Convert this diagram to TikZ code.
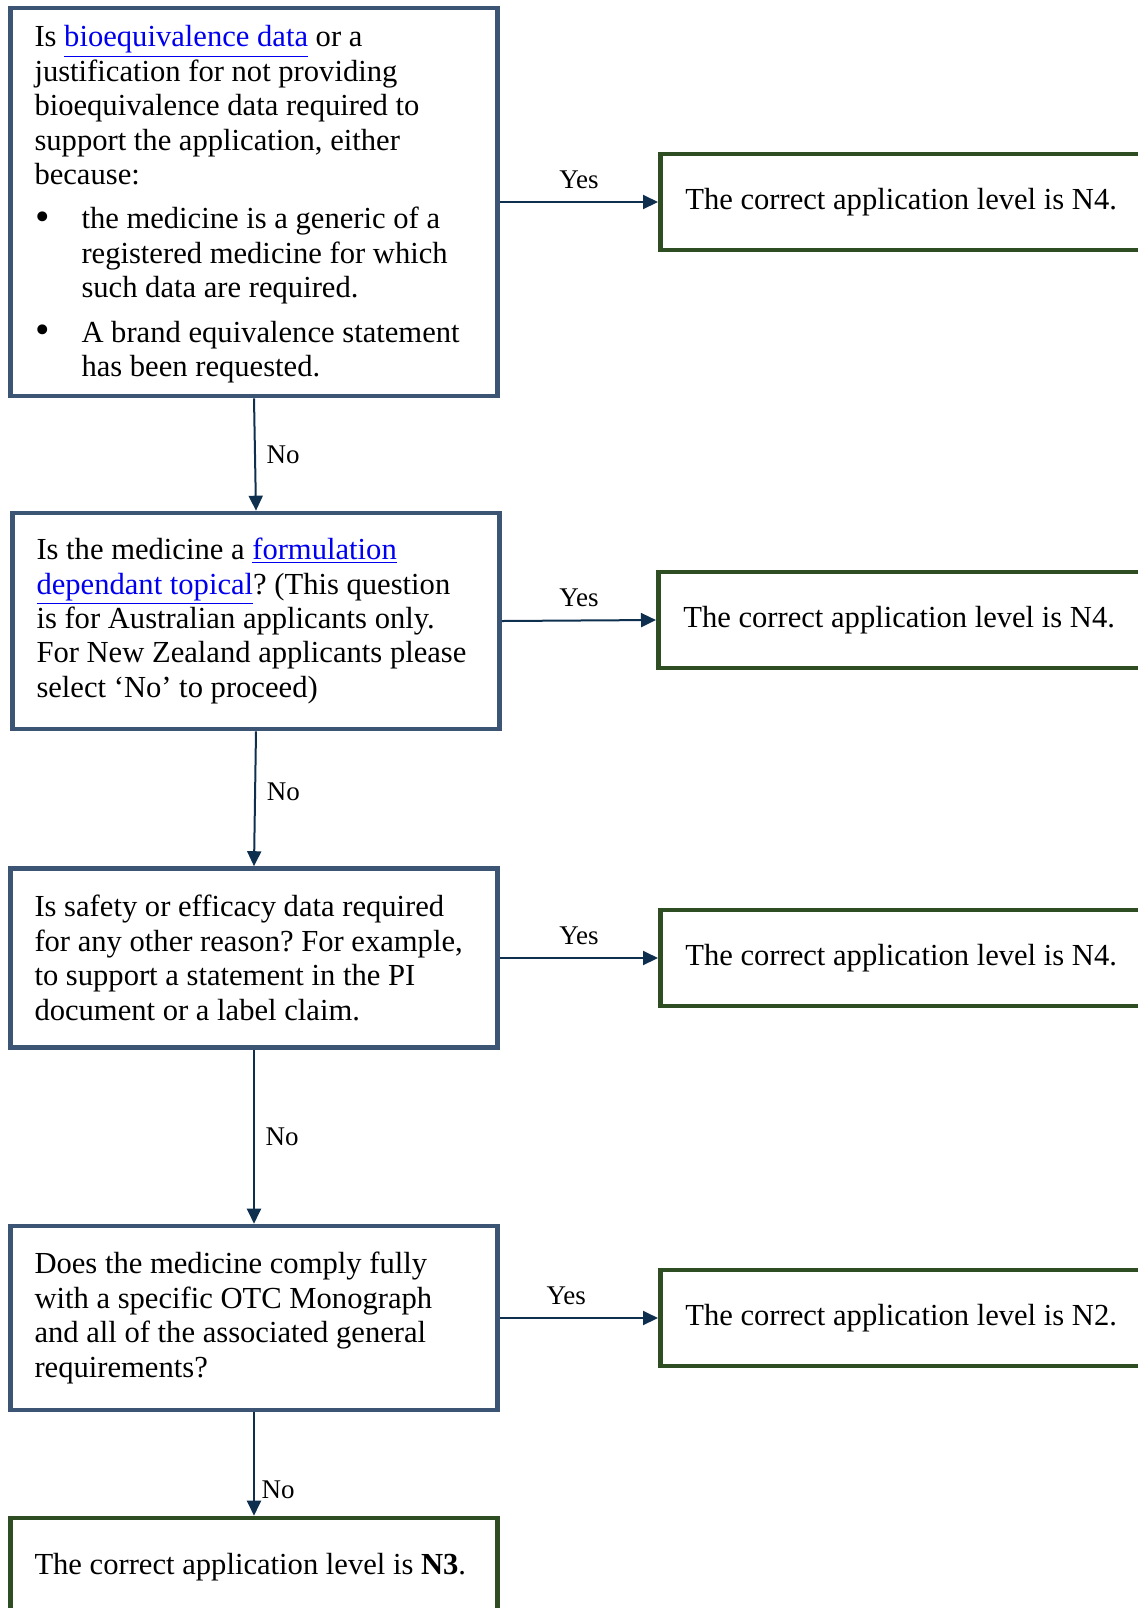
\documentclass[tikz,border=0pt]{standalone}
\usepackage{fontspec}
\setmainfont{Liberation Serif}
\usetikzlibrary{arrows.meta}
\definecolor{qborder}{HTML}{3D5575}
\definecolor{aborder}{HTML}{2E4D22}
\definecolor{flowline}{HTML}{0E2F4E}
\definecolor{linkblue}{HTML}{0000EE}
\frenchspacing
\newcommand{\weblink}[1]{{\color{linkblue}\underline{#1}}}
\newcommand{\bulletitem}{\makebox[23.5pt][l]{\hspace{0.5pt}\raisebox{-0.9pt}{\scalebox{1.35}{\textbullet}}}}
\newcommand{\bulletpad}{\hspace*{23.5pt}}
\tikzset{
  boxtext/.style={font=\fontsize{15.3}{17.2}\selectfont,
    execute at begin node={\raggedright\spaceskip=0pt\xspaceskip=0pt\relax}},
  question/.style={draw=qborder, line width=2.3pt, rectangle, inner xsep=12pt,
    text width=219.5pt, boxtext},
  answer/.style={draw=aborder, line width=2.3pt, rectangle, inner xsep=12.5pt,
    text width=225pt, minimum height=48pt, boxtext},
  flow/.style={draw=flowline, line width=1pt, -{Triangle[length=7.5pt,width=7pt]}},
  choice/.style={font=\fontsize{13.5}{15}\selectfont, text=black}
}
\begin{document}
\begin{tikzpicture}[x=0.5pt, y=-0.5pt]
      \useasboundingbox (0, 0) rectangle (1137, 1608);
      % questions
      \node[question, minimum height=194pt] (q1) at (254, 202) {\rule{0pt}{13pt}Is \weblink{bioequivalence data} or a\\
        justification for not providing\\
        bioequivalence data required to\\
        support the application, either\\
        because:\\[5pt]
        \bulletitem the medicine is a generic of a\\
        \bulletpad registered medicine for which\\
        \bulletpad such data are required.\\[5pt]
        \bulletitem A brand equivalence statement\\
        \bulletpad has been requested.};
      \node[question, minimum height=108pt] (q2) at (256, 621) {Is the medicine a \weblink{formulation}\\
        \weblink{dependant topical}? (This question\\
        is for Australian applicants only.\\
        For New Zealand applicants please\\
        select ‘No’ to proceed)};
      \node[question, minimum height=89.5pt] (q3) at (254, 958) {Is safety or efficacy data required\\
        for any other reason? For example,\\
        to support a statement in the PI\\
        document or a label claim.};
      \node[question, minimum height=92pt] (q4) at (254, 1318) {Does the medicine comply fully\\
        with a specific OTC Monograph\\
        and all of the associated general\\
        requirements?};
      % outcomes
      \node[answer, anchor=west] (a1) at (658, 202) {The correct application level is N4.};
      \node[answer, anchor=west] (a2) at (656, 620) {The correct application level is N4.};
      \node[answer, anchor=west] (a3) at (658, 958) {The correct application level is N4.};
      \node[answer, anchor=west] (a4) at (658, 1318) {The correct application level is N2.};
      \node[answer, text width=219.5pt, inner xsep=12pt, minimum height=49pt] (a5) at (254, 1567) {The correct application level is \textbf{N3}.};
      % yes
      \draw[flow] (q1.east) -- node[choice, above=3pt] {Yes} (a1.west);
      \draw[flow] (q2.east) -- node[choice, above=3pt] {Yes} (a2.west);
      \draw[flow] (q3.east) -- node[choice, above=3pt] {Yes} (a3.west);
      \draw[flow] (q4.east) -- node[choice, above=3pt, pos=0.42] {Yes} (a4.west);
      % no
      \draw[flow] (q1.south) -- node[choice, right=2pt] {No} (q2.north);
      \draw[flow] (q2.south) -- node[choice, right=2pt, pos=0.45] {No} (q3.north);
      \draw[flow] (q3.south) -- node[choice, right=2pt] {No} (q4.north);
      \draw[flow] (q4.south) -- node[choice, right=0pt, pos=0.75] {No} (a5.north);
\end{tikzpicture}
\end{document}
